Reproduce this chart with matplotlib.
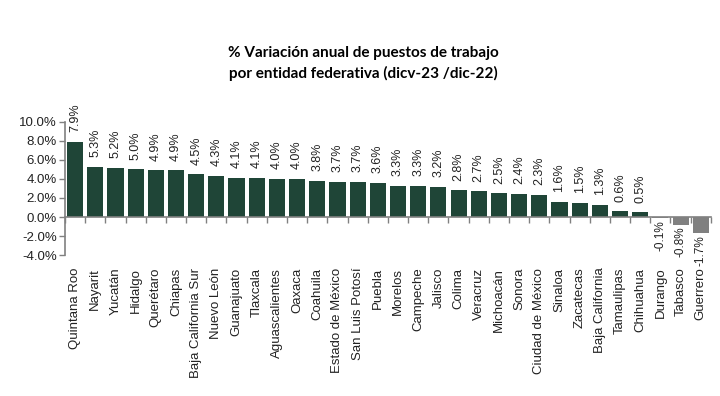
import matplotlib
matplotlib.use("Agg")
import matplotlib.pyplot as plt
import numpy as np

# Datos: variación anual de puestos de trabajo (%)
estados = ["Quintana Roo", "Nayarit", "Yucatán", "Hidalgo", "Querétaro", "Chiapas",
           "Baja California Sur", "Nuevo León", "Guanajuato", "Tlaxcala", "Aguascalientes",
           "Oaxaca", "Coahuila", "Estado de México", "San Luis Potosí", "Puebla", "Morelos",
           "Campeche", "Jalisco", "Colima", "Veracruz", "Michoacán", "Sonora",
           "Ciudad de México", "Sinaloa", "Zacatecas", "Baja California", "Tamaulipas",
           "Chihuahua", "Durango", "Tabasco", "Guerrero"]
variacion = [7.9, 5.3, 5.2, 5.0, 4.9, 4.9, 4.5, 4.3, 4.1, 4.1, 4.0, 4.0, 3.8, 3.7, 3.7,
             3.6, 3.3, 3.3, 3.2, 2.8, 2.7, 2.5, 2.4, 2.3, 1.6, 1.5, 1.3, 0.6, 0.5,
             -0.1, -0.8, -1.7]
y_ticks = [-4, -2, 0, 2, 4, 6, 8, 10]

plt.rcParams['font.family'] = ['Liberation Sans', 'DejaVu Sans']

verde = "#1f4537"
gris = "#808080"

fig = plt.figure(figsize=(7.2, 3.96), dpi=100)
ax = fig.add_axes([0.0903, 0.356, 0.897, 0.336])

x = np.arange(len(estados))
colores = [verde if v >= 0 else gris for v in variacion]
barras = ax.bar(x, variacion, width=0.8, color=colores)

# Etiquetas de valor: positivas arriba, negativas abajo (más pegadas)
etiq_pos = [f"{v:.1f}%" if v >= 0 else "" for v in variacion]
etiq_neg = [f"{v:.1f}%" if v < 0 else "" for v in variacion]
ax.bar_label(barras, labels=etiq_pos, rotation=90, padding=7, fontsize=9, color="#222222")
ax.bar_label(barras, labels=etiq_neg, rotation=90, padding=1.5, fontsize=8.5, color="#222222")

ax.set_xlim(-0.5, len(estados) - 0.5)
ax.set_ylim(-4, 10)
ax.set_yticks(y_ticks)
ax.set_yticklabels([f"{t:.1f}%" for t in y_ticks], fontsize=9.5, color="#222222")

# Eje x en el cero, etiquetas abajo
ax.spines['top'].set_visible(False)
ax.spines['right'].set_visible(False)
ax.spines['bottom'].set_position(('data', 0))
ax.spines['bottom'].set_color(gris)
ax.spines['left'].set_color(gris)
ax.spines['bottom'].set_linewidth(1.2)
ax.spines['left'].set_linewidth(1.2)

ax.set_xticks(x)
ax.set_xticklabels(estados, rotation=90, fontsize=9.5, color="#222222")
ax.set_xticks(np.arange(-0.5, len(estados), 1), minor=True)
ax.tick_params(axis='x', which='major', length=0, pad=36.5)
ax.tick_params(axis='x', which='minor', length=4, color=gris, width=1, direction='out')
ax.tick_params(axis='y', length=4, color=gris, width=1, pad=2)

fig.text(0.504, 0.84, "% Variación anual de puestos de trabajo\npor entidad federativa (dicv-23 /dic-22)",
         ha='center', va='center', fontsize=11, fontweight='bold', family='Lato',
         linespacing=1.5)

fig.savefig("out.png", dpi=100)
